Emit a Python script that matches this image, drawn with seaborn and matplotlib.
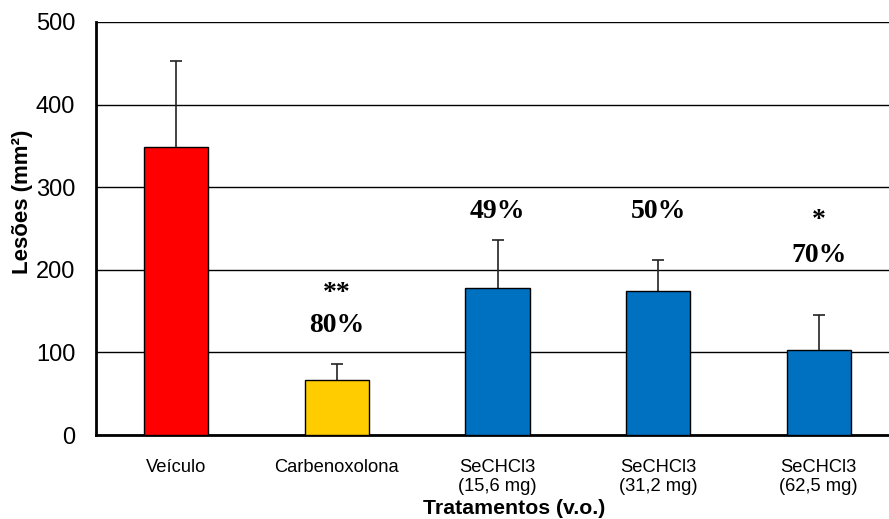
import matplotlib
matplotlib.use("Agg")
import matplotlib.pyplot as plt
import seaborn as sns
import numpy as np
import pandas as pd

categories = ["Veículo", "Carbenoxolona", "SeCHCl3\n(15,6 mg)", "SeCHCl3\n(31,2 mg)", "SeCHCl3\n(62,5 mg)"]
values = [349, 67, 178, 174, 103]
errors = [104, 19, 58, 38, 42]
colors = ["#FF0000", "#FFCC00", "#0070C0", "#0070C0", "#0070C0"]
pct_labels = ["", "80%", "49%", "50%", "70%"]
sig_labels = ["", "**", "", "", "*"]
pct_y = [0, 125, 263, 263, 209]
sig_y = [0, 164, 0, 0, 252]

sns.set_style("white")
plt.rcParams['font.family'] = ['Liberation Sans', 'DejaVu Sans']
plt.rcParams.update({"text.color": "black", "axes.labelcolor": "black",
                     "xtick.color": "black", "ytick.color": "black"})

fig = plt.figure(figsize=(8.89, 5.19), dpi=100)
W, H = 889, 519
ax = fig.add_axes([96 / W, (H - 435) / H, (899 - 96) / W, (435 - 22) / H])

df = pd.DataFrame({"cat": categories, "val": values})
sns.barplot(data=df, x="cat", y="val", hue="cat", palette=colors, legend=False,
            saturation=1, width=0.40, edgecolor="black", linewidth=1.0, ax=ax, zorder=3)

xs = np.arange(len(categories))
_, caps, _ = ax.errorbar(xs, values, yerr=[np.zeros(len(values)), errors], fmt="none",
                         ecolor="#222222", elinewidth=1.2, capsize=4, capthick=1.2, zorder=2)
if len(caps) == 2:
    caps[0].set_visible(False)

ax.set_ylim(0, 500)
ax.set_xlim(-0.5, len(categories) - 0.5)
ax.set_yticks([0, 100, 200, 300, 400, 500])
ax.set_yticklabels(["0", "100", "200", "300", "400", "500"], fontsize=17)
ax.yaxis.grid(True, color="black", linewidth=1.0, zorder=0)
ax.set_axisbelow(True)

ax.set_xticks(np.arange(-0.5, len(categories) - 0.4, 1.0))
ax.set_xticklabels([""] * (len(categories) + 1))
ax.set_xticks(xs, minor=True)
ax.set_xticklabels(categories, minor=True, fontsize=13.2, linespacing=1.2)
ax.tick_params(axis="x", which="major", direction="out", length=6, width=1.2, color="black")
ax.tick_params(axis="x", which="minor", length=0, pad=17)
ax.tick_params(axis="y", direction="out", length=6, width=1.2, color="black", pad=9)

for side in ["top", "right"]:
    ax.spines[side].set_visible(False)
for side in ["left", "bottom"]:
    ax.spines[side].set_color("black")
    ax.spines[side].set_linewidth(2.0)

ax.set_ylabel("Lesões (mm²)", fontsize=16, fontweight="bold")
ax.yaxis.set_label_coords(-0.078, 0.564)
ax.set_xlabel("")
fig.text(514 / W, 1 - 508 / H, "Tratamentos (v.o.)", ha="center", va="center",
         fontsize=15.3, fontweight="bold")

for i in range(len(categories)):
    if pct_labels[i]:
        ax.text(xs[i], pct_y[i], pct_labels[i], ha="center", va="baseline",
                fontsize=20, fontweight="bold", family=["Liberation Serif", "DejaVu Serif"], zorder=5)
    if sig_labels[i]:
        ax.text(xs[i], sig_y[i], sig_labels[i], ha="center", va="baseline",
                fontsize=20, fontweight="bold", family=["Liberation Serif", "DejaVu Serif"], zorder=5)

fig.savefig("out.png", dpi=100)
